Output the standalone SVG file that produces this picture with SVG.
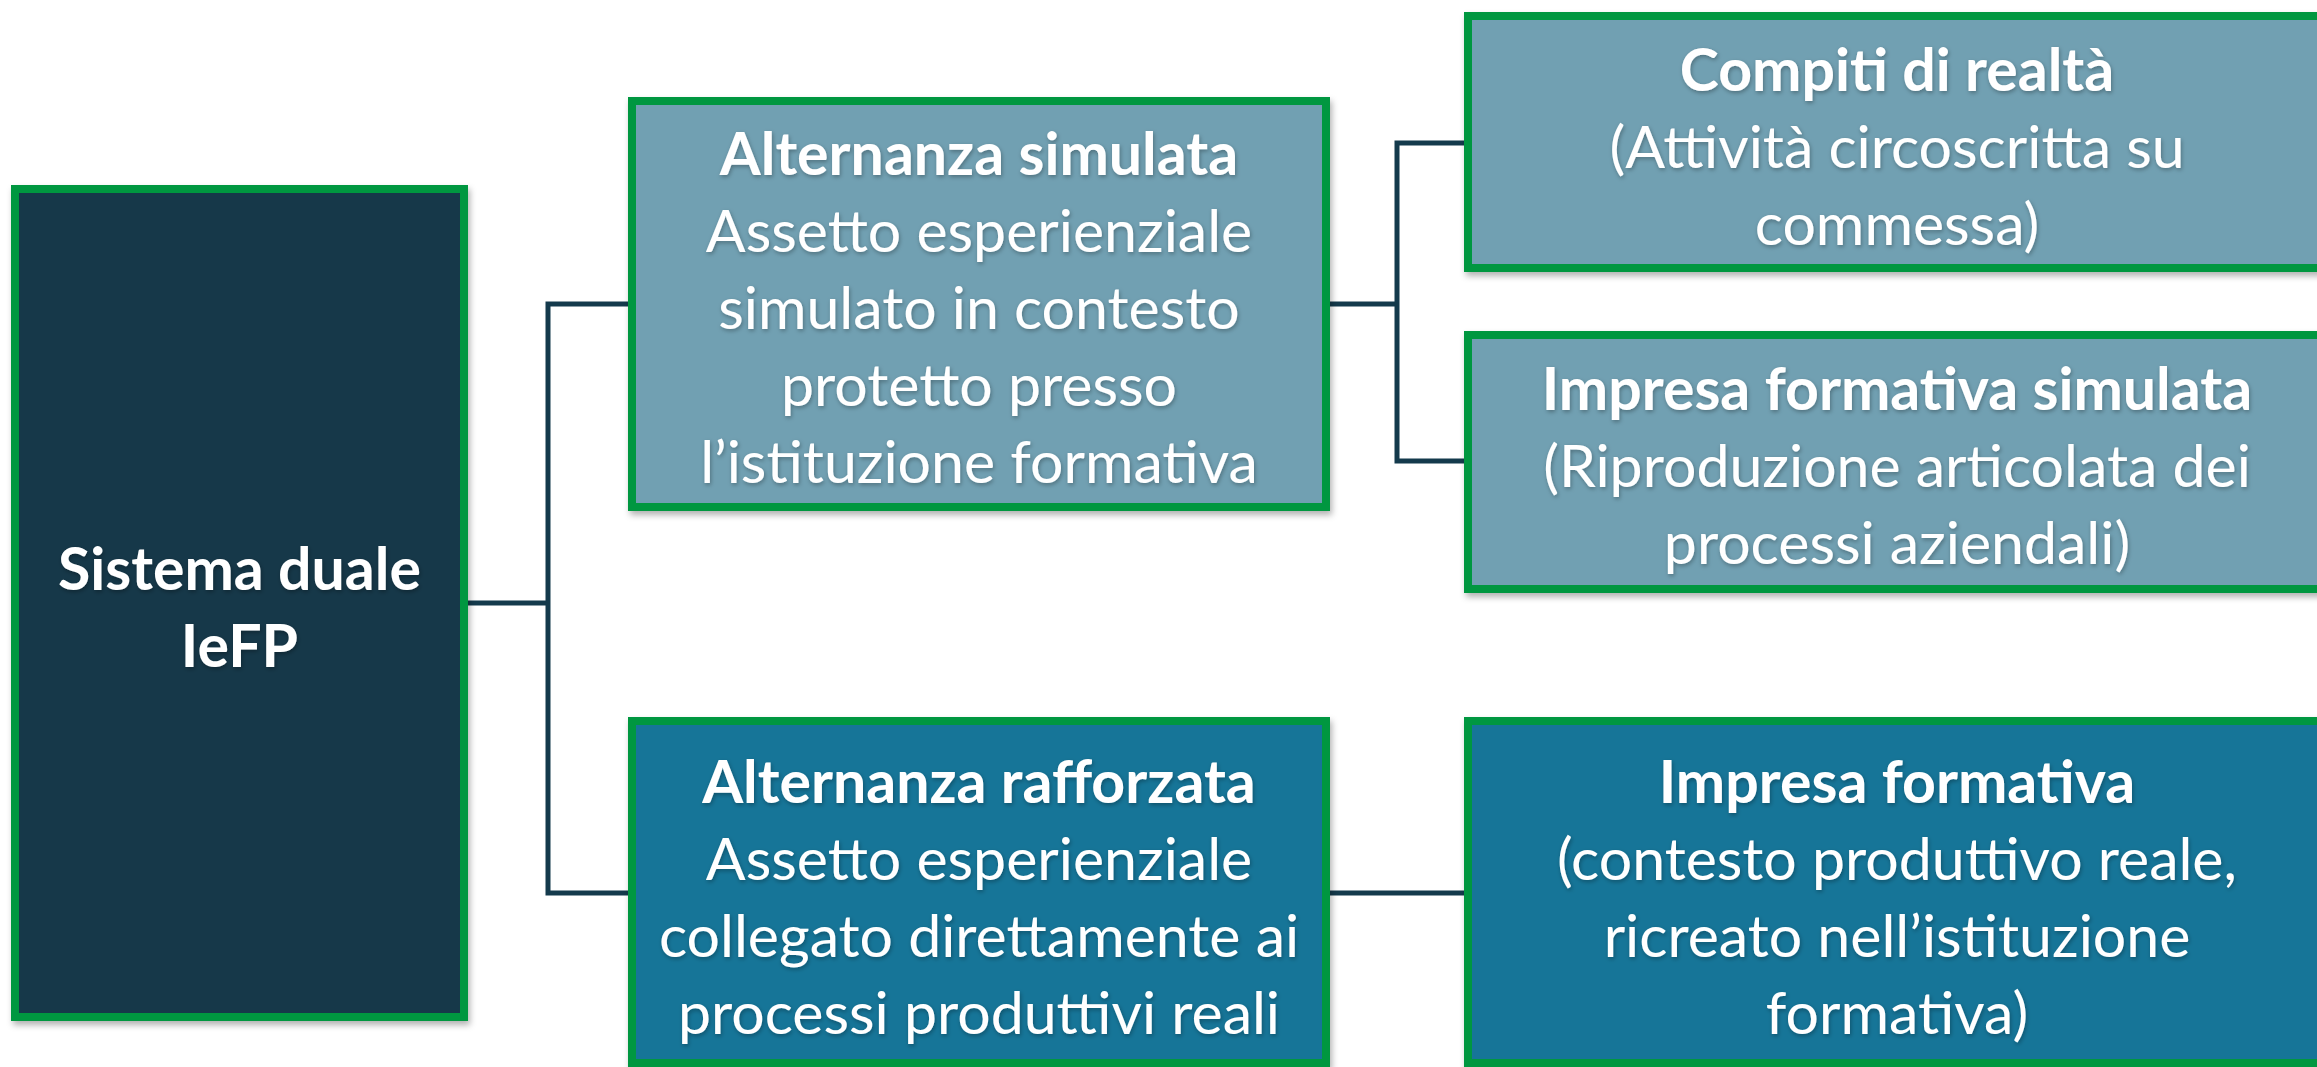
<svg xmlns="http://www.w3.org/2000/svg" width="2317" height="1067" viewBox="0 0 2317 1067">
  <defs>
    <filter id="boxShadow" x="-5%" y="-5%" width="110%" height="112%">
      <feDropShadow dx="2" dy="4" stdDeviation="3" flood-color="#000000" flood-opacity="0.3"/>
    </filter>
    <filter id="textShadow" x="-5%" y="-20%" width="110%" height="150%">
      <feDropShadow dx="1" dy="2" stdDeviation="2" flood-color="#000000" flood-opacity="0.3"/>
    </filter>
  </defs>
  <style>
    .box { stroke: #00973F; stroke-width: 8; filter: url(#boxShadow); }
    .dark { fill: #12394A; }
    .light { fill: #71A0B2; }
    .mid { fill: #167598; }
    .conn { fill: none; stroke: #143A4C; stroke-width: 5; }
    text { font-family: Lato, "Open Sans", "Liberation Sans", sans-serif; font-size: 59px; fill: #FFFFFF; text-anchor: middle; filter: url(#textShadow); }
    .b { font-weight: bold; }
  </style>
  <rect width="2317" height="1067" fill="#FFFFFF"/>

  <g id="connectors">
    <path class="conn" d="M468,603 H548"/>
    <path class="conn" d="M628,304 H548 V893 H628"/>
    <path class="conn" d="M1330,304 H1397"/>
    <path class="conn" d="M1464,143 H1397 V461 H1464"/>
    <path class="conn" d="M1330,893 H1464"/>
  </g>

  <g id="node-sistema">
    <rect class="box dark" x="15" y="189" width="449" height="828"/>
    <text class="b" x="239.5" y="590">Sistema duale</text>
    <text class="b" x="239.5" y="667">IeFP</text>
  </g>

  <g id="node-alternanza-simulata">
    <rect class="box light" x="632" y="101" width="694" height="406"/>
    <text class="b" x="979" y="175">Alternanza simulata</text>
    <text x="979" y="252">Assetto esperienziale</text>
    <text x="979" y="329">simulato in contesto</text>
    <text x="979" y="406">protetto presso</text>
    <text x="979" y="483">l’istituzione formativa</text>
  </g>

  <g id="node-compiti">
    <rect class="box light" x="1468" y="16" width="860" height="252"/>
    <text class="b" x="1897" y="91">Compiti di realtà</text>
    <text x="1897" y="168">(Attività circoscritta su</text>
    <text x="1897" y="245">commessa)</text>
  </g>

  <g id="node-impresa-simulata">
    <rect class="box light" x="1468" y="335" width="860" height="254"/>
    <text class="b" x="1897" y="410">Impresa formativa simulata</text>
    <text x="1897" y="487">(Riproduzione articolata dei</text>
    <text x="1897" y="564">processi aziendali)</text>
  </g>

  <g id="node-alternanza-rafforzata">
    <rect class="box mid" x="632" y="721" width="694" height="342"/>
    <text class="b" x="979" y="803">Alternanza rafforzata</text>
    <text x="979" y="880">Assetto esperienziale</text>
    <text x="979" y="957">collegato direttamente ai</text>
    <text x="979" y="1034">processi produttivi reali</text>
  </g>

  <g id="node-impresa-formativa">
    <rect class="box mid" x="1468" y="721" width="860" height="342"/>
    <text class="b" x="1897" y="803">Impresa formativa</text>
    <text x="1897" y="880">(contesto produttivo reale,</text>
    <text x="1897" y="957">ricreato nell’istituzione</text>
    <text x="1897" y="1034">formativa)</text>
  </g>
</svg>
